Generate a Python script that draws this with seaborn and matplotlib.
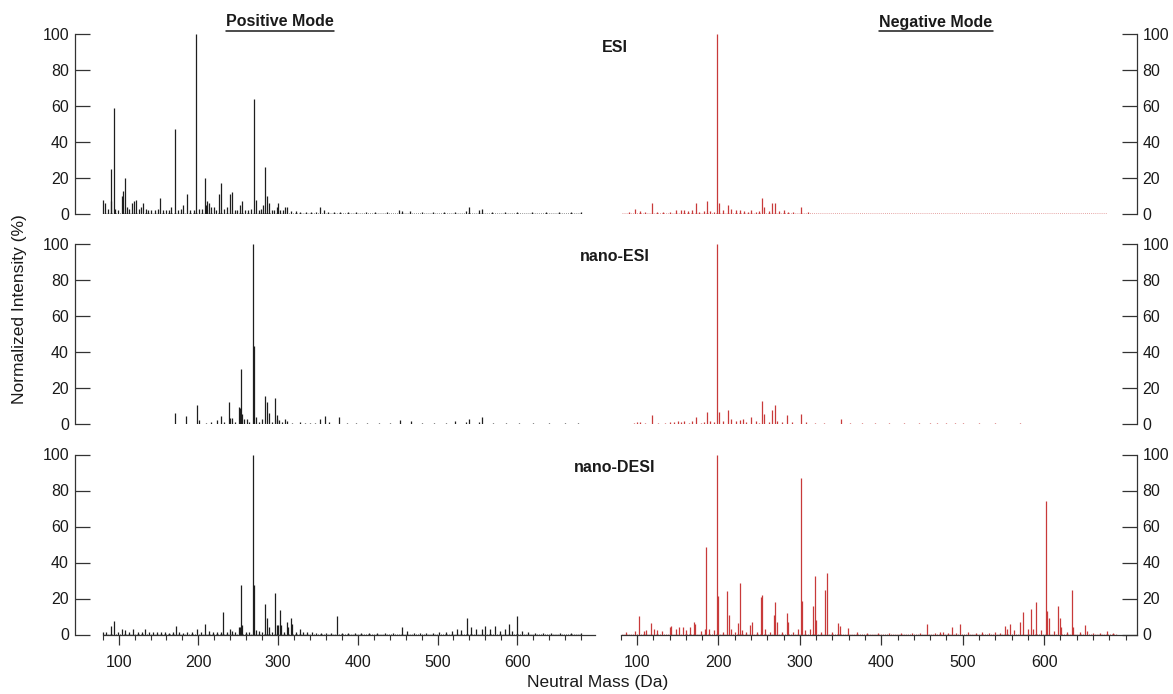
import matplotlib
matplotlib.use("Agg")
import matplotlib.pyplot as plt
import seaborn as sns
from matplotlib.lines import Line2D
from matplotlib.ticker import MultipleLocator, FixedLocator

# ---- data ----
# ESI, positive mode
esi_pos_mass = [80, 83, 86, 90, 91, 94, 96, 99, 104, 106, 108, 110, 113, 117, 119, 122, 125, 128,
                131, 134, 137, 141, 145, 149, 152, 156, 160, 163, 166, 171, 174, 178, 181, 186,
                190, 194, 197, 201, 205, 208, 209, 211, 213, 216, 219, 222, 226, 228, 232, 236,
                240, 242, 246, 249, 252, 255, 258, 262, 266, 270, 272, 276, 279, 281, 284, 286,
                288, 292, 295, 298, 300, 303, 306, 309, 311, 316, 322, 328, 335, 341, 347, 352,
                357, 363, 370, 378, 388, 398, 410, 422, 436, 452, 456, 466, 480, 494, 508, 522,
                536, 540, 552, 556, 568, 584, 600, 618, 636, 652, 668, 680]
esi_pos_int = [8, 6, 3, 25, 7, 59, 3, 2, 10, 13, 20, 4, 3, 6, 7, 8, 3, 4,
               6, 3, 2, 2, 2, 3, 9, 2, 2, 2, 4, 47, 2, 3, 5, 11,
               2, 2, 100, 3, 3, 20, 5, 7, 6, 4, 4, 2, 11, 17, 3, 4,
               11, 12, 2, 2, 5, 7, 2, 2, 3, 64, 8, 2, 3, 5, 26, 10,
               6, 2, 2, 4, 6, 2, 2, 4, 4, 1.5, 1.5, 1, 1, 1, 1, 4,
               2, 1, 1, 1, 1, 1, 1, 1, 1, 2.5, 1.5, 1.5, 1, 1, 1, 1,
               1.5, 4, 2, 3, 1, 1, 1, 1, 1, 1, 1, 1]

# ESI, negative mode
esi_neg_mass = [90, 98, 104, 110, 118, 125, 132, 140, 148, 154, 158, 163, 168, 172, 176, 182,
                186, 190, 194, 198, 201, 206, 212, 216, 222, 226, 232, 236, 240, 246, 250,
                254, 256, 262, 266, 269, 274, 280, 286, 292, 302, 310]
esi_neg_int = [1, 3, 1.5, 1, 6, 1, 1, 1, 2, 2, 2.4, 1.5, 2, 6, 1, 1.5,
               7, 1.5, 1, 100, 6, 2, 5, 3, 2, 2, 1.5, 1, 2.4, 1, 1.5,
               9, 4, 1.5, 6, 6, 1.5, 2, 1, 1, 4, 1]

# nano-ESI, positive mode
nesi_pos_mass = [171, 184, 198, 201, 210, 216, 223, 228, 232, 238, 240, 242, 246, 251, 252,
                 253, 255, 257, 261, 264, 268, 270, 272, 276, 280, 284, 286, 288, 292, 296,
                 298, 299, 301, 305, 309, 311, 318, 327, 334, 340, 346, 352, 359, 364, 376,
                 386, 398, 412, 426, 440, 453, 467, 481, 496, 510, 522, 536, 540, 552, 556,
                 570, 586, 602, 620, 640, 660, 676]
nesi_pos_int = [6.5, 4.6, 10.7, 2.4, 1, 1.5, 2.4, 4.6, 1.5, 12.6, 3.3, 3.3, 1.5, 9.4, 8.9,
                30.6, 5.7, 2.8, 2.8, 1.5, 100, 43.5, 4.3, 1.5, 2.8, 15.9, 12.6, 6.5, 1.5, 14.4,
                2.8, 5.2, 2.4, 1.5, 2.8, 2, 1, 1.5, 1, 1, 1, 2.8, 4.6, 1.3, 3.9,
                1, 1, 1, 1, 1, 2.4, 1.8, 1, 1, 1, 1.8, 1.5, 3, 1.5, 4,
                1, 1, 1, 1, 1, 1, 1]

# nano-ESI, negative mode
nesi_neg_mass = [96, 100, 104, 110, 118, 126, 134, 140, 146, 150, 154, 158, 164, 168, 172, 178,
                 182, 186, 190, 194, 198, 201, 206, 212, 216, 222, 226, 230, 234, 240, 246,
                 250, 254, 256, 262, 266, 269, 272, 278, 284, 290, 302, 308, 318, 330, 350,
                 362, 376, 392, 410, 428, 446, 460, 468, 480, 490, 500, 520, 540, 570]
nesi_neg_int = [1, 1.5, 1.5, 1, 5, 1, 1, 1.5, 1.5, 2, 1.5, 2, 1, 2, 4, 1,
                1.5, 7, 2, 1.5, 100, 7, 2, 8, 3, 2, 2.5, 3, 1.5, 4, 2,
                1, 13, 6, 1.5, 8, 11, 2, 1.5, 5, 1.5, 6, 1.5, 1, 1, 3,
                1, 1, 1, 1, 1, 1, 1, 1, 1, 1, 1, 1, 1, 1]

# nano-DESI, positive mode
ndesi_pos_mass = [80, 84, 90, 94, 99, 104, 108, 113, 118, 124, 129, 133, 138, 143, 148, 153,
                  158, 163, 168, 172, 176, 181, 186, 192, 198, 203, 208, 213, 218, 223, 228,
                  231, 236, 240, 242, 246, 251, 252, 253, 255, 260, 264, 268, 270, 272, 276,
                  280, 284, 286, 288, 292, 296, 298, 300, 302, 304, 308, 311, 313, 316, 318,
                  322, 327, 331, 336, 342, 348, 354, 360, 366, 374, 380, 388, 396, 404, 414,
                  424, 434, 444, 455, 462, 470, 478, 486, 494, 502, 510, 518, 524, 530, 537,
                  542, 548, 556, 560, 566, 572, 578, 584, 590, 594, 600, 606, 614, 622, 632,
                  642, 654, 668, 680]
ndesi_pos_int = [1.5, 1.5, 4.6, 7.4, 1.5, 2.8, 2.4, 1.5, 2.8, 1.5, 1.5, 2.8, 1.5, 1.5, 1.5, 1.5,
                 1.5, 1, 1.5, 4.8, 1.5, 1, 1.5, 1.5, 2.8, 1.5, 5.7, 2, 1.5, 1.5, 1.5,
                 12.6, 1.5, 3.3, 2, 1.5, 3.9, 4.3, 27.4, 5.2, 1.5, 1.5, 100, 27.4, 2.4, 2,
                 1.5, 17.2, 9.4, 4.3, 1.5, 22.8, 5.2, 5.2, 13.5, 5.2, 1.5, 6.7, 4.3, 8.9, 5.7,
                 1.5, 3.3, 1.5, 1.5, 1.5, 1, 1, 1, 1, 10.2, 1, 1, 1, 1, 1,
                 1, 1, 1, 3.9, 1.8, 1, 1, 1, 1, 1.5, 1.5, 2, 3, 2.5, 9,
                 4, 3, 3, 5, 3, 5, 2, 3, 6, 2, 10.5, 2, 1.5, 1, 1,
                 1, 1, 1, 1]

# nano-DESI, negative mode
ndesi_neg_mass = [87, 97, 103, 108, 111, 117, 121, 125, 131, 140, 142, 148, 152, 156, 160, 165,
                  170, 171, 178, 183, 185, 188, 194, 198, 199, 206, 211, 213, 215, 220, 224,
                  227, 229, 234, 239, 241, 247, 252, 254, 257, 263, 268, 270, 272, 278, 284,
                  286, 292, 298, 301, 303, 306, 312, 316, 318, 320, 326, 331, 333, 340, 347,
                  349, 359, 370, 382, 396, 410, 424, 438, 448, 456, 466, 472, 476, 482, 487,
                  492, 497, 506, 516, 524, 532, 540, 546, 552, 554, 558, 563, 570, 574, 580,
                  584, 586, 590, 596, 602, 604, 606, 612, 617, 619, 621, 628, 634, 636, 644,
                  650, 652, 660, 668, 677, 684]
ndesi_neg_int = [1.5, 1.8, 10.2, 1.8, 2.4, 6.5, 2.8, 2.4, 1.8, 4.3, 4.6, 3.3, 4.3, 4.3, 2.5, 4.3,
                 6.7, 6.1, 2, 3.3, 48.7, 3.3, 2.4, 100, 21.3, 1.5, 24.3, 10.7, 3.3, 1.5, 6.5,
                 28.7, 2.4, 1.5, 5.2, 7, 1.5, 20.6, 22.2, 3.3, 1.5, 10.7, 18.1, 7, 1.5, 12,
                 7, 1.5, 2.8, 87, 18.5, 2.4, 2.8, 15.7, 32.4, 8.3, 1.5, 25, 33.9, 1.5, 6.5,
                 4.6, 3.7, 1.5, 1, 1, 1, 1, 1, 1, 5.7, 1, 1.5, 1.5, 1, 4.3,
                 1, 5.6, 1.5, 1, 1.5, 1, 1.5, 1, 4.6, 2.9, 5.6, 2.4, 7, 12.6, 3.3,
                 14.4, 3, 18.1, 2.4, 74, 13, 8.9, 2, 15.7, 8.9, 4.3, 1.5, 24.6, 3.9, 1.5,
                 5.2, 1.8, 1, 1, 1.8, 1]

row_names = ["ESI", "nano-ESI", "nano-DESI"]
pos_data = [(esi_pos_mass, esi_pos_int), (nesi_pos_mass, nesi_pos_int), (ndesi_pos_mass, ndesi_pos_int)]
neg_data = [(esi_neg_mass, esi_neg_int), (nesi_neg_mass, nesi_neg_int), (ndesi_neg_mass, ndesi_neg_int)]
pos_baseline = [(80, 680), (84, 680), (80, 680)]
neg_baseline = [(82, 677), (82, 680), (82, 690)]
major_ticks = [100, 200, 300, 400, 500, 600]
pos_minor = list(range(80, 700, 20))
neg_minor = list(range(80, 720, 20))

# ---- style ----
sns.set_theme(style="ticks")
plt.rcParams["font.family"] = ["Liberation Sans", "DejaVu Sans"]
axis_col = "#333333"
pos_col = "#1e1e1e"
neg_col = "#c83a3a"

W, H = 1173, 694
fig = plt.figure(figsize=(W / 100, H / 100), dpi=100)

bottoms = [1 - 214 / H, 1 - 424.3 / H, 1 - 634.5 / H]
ph = 180 / H

for i in range(3):
    axl = fig.add_axes([74.5 / W, bottoms[i], (595 - 74.5) / W, ph])
    axr = fig.add_axes([620.7 / W, bottoms[i], (1137 - 620.7) / W, ph])

    for ax, (m, y), col, bl in [(axl, pos_data[i], pos_col, pos_baseline[i]),
                               (axr, neg_data[i], neg_col, neg_baseline[i])]:
        ax.hlines(0.4, bl[0], bl[1], colors=col, linestyles=(0, (1, 1.5)), linewidth=0.6, alpha=0.6)
        ax.vlines(m, 0, y, colors=col, linewidth=0.9)
        ax.set_ylim(0, 100)
        ax.set_facecolor("none")
        ax.yaxis.set_major_locator(MultipleLocator(20))
        ax.tick_params(axis="y", direction="in", length=11, width=0.9, color=axis_col,
                       labelsize=11.5, labelcolor="#1a1a1a", pad=4)
        for s in ax.spines.values():
            s.set_color(axis_col)
            s.set_linewidth(0.9)

    axl.set_xlim(44.6, 697.5)
    axr.set_xlim(80, 714)

    sns.despine(ax=axl, top=True, right=True, bottom=(i < 2))
    sns.despine(ax=axr, top=True, left=True, right=False, bottom=(i < 2))
    axl.spines["left"].set_bounds(0, 100)
    axr.spines["right"].set_bounds(0, 100)
    axr.yaxis.set_ticks_position("right")

    for ax, lo, hi, minor in [(axl, 80, 697.5, pos_minor), (axr, 80, 714, neg_minor)]:
        if i < 2:
            ax.set_xticks([])
        else:
            ax.spines["bottom"].set_bounds(lo, hi)
            ax.set_xticks(major_ticks)
            ax.xaxis.set_minor_locator(FixedLocator(minor))
            ax.tick_params(axis="x", which="major", direction="out", length=7.5, width=0.9,
                           color=axis_col, labelsize=11.5, labelcolor="#1a1a1a", pad=7)
            ax.tick_params(axis="x", which="minor", direction="out", length=3.8, width=0.8,
                           color=axis_col)

    fig.text(615 / W, 1 - (47 + 210 * i) / H, row_names[i], ha="center", va="center",
             fontsize=11.5, fontweight="bold", color="#1a1a1a")

# column titles, underlined
titles = []
for x, t in [(280, "Positive Mode"), (936, "Negative Mode")]:
    titles.append(fig.text(x / W, 1 - 22 / H, t, ha="center", va="center", fontsize=11.5,
                           fontweight="bold", color="#1a1a1a"))

fig.text(20 / W, 1 - 309 / H, "Normalized Intensity (%)", rotation=90, ha="center", va="center",
         fontsize=12.5, color="#1a1a1a")
fig.text(598 / W, 1 - 683 / H, "Neutral Mass (Da)", ha="center", va="center",
         fontsize=12.5, color="#1a1a1a")

fig.canvas.draw()
r = fig.canvas.get_renderer()
for t in titles:
    bb = t.get_window_extent(renderer=r)
    yline = bb.y0 - 1.5
    fig.add_artist(Line2D([bb.x0 / W, bb.x1 / W], [yline / H, yline / H], color="#1a1a1a",
                          linewidth=1.1, transform=fig.transFigure))

fig.savefig("out.png", dpi=100)
